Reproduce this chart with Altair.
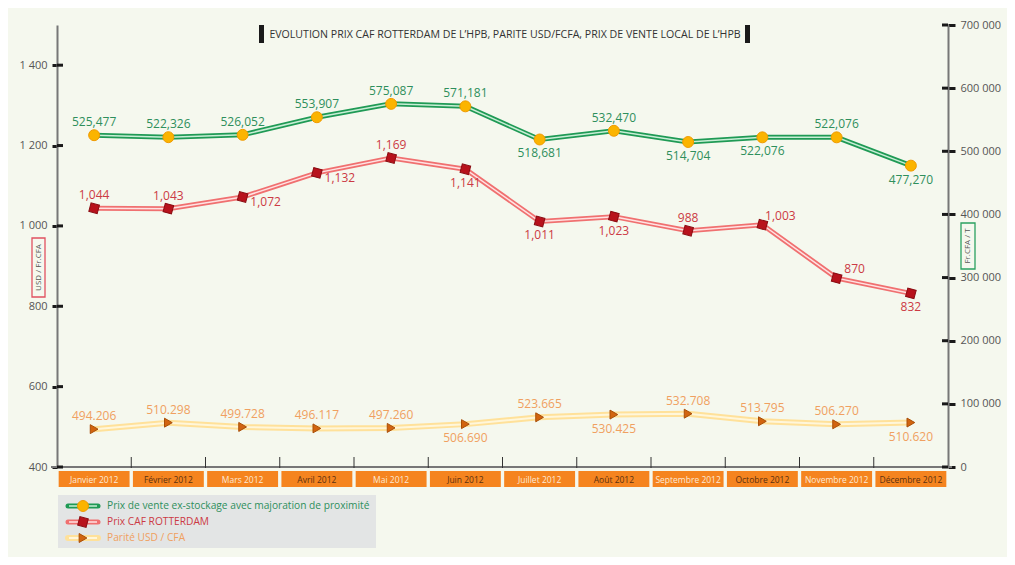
import altair as alt
import pandas as pd

# ---------------- data ----------------
months = ["Janvier 2012", "Février 2012", "Mars 2012", "Avril 2012", "Mai 2012", "Juin 2012",
          "Juillet 2012", "Août 2012", "Septembre 2012", "Octobre 2012", "Novembre 2012", "Décembre 2012"]
prix_vente = [525477, 522326, 526052, 553907, 575087, 571181, 518681, 532470, 514704, 522076, 522076, 477270]
prix_caf = [1044, 1043, 1072, 1132, 1169, 1141, 1011, 1023, 988, 1003, 870, 832]
parite = [494.206, 510.298, 499.728, 496.117, 497.260, 506.690, 523.665, 530.425, 532.708, 513.795, 506.270, 510.620]
left_ticks = [400, 600, 800, 1000, 1200, 1400]
right_ticks = [0, 100000, 200000, 300000, 400000, 500000, 600000, 700000]
series_names = ["Prix de vente ex-stockage avec majoration de proximité", "Prix CAF ROTTERDAM", "Parité USD / CFA"]
title_text = "EVOLUTION PRIX CAF ROTTERDAM DE L\u2019HPB, PARITE USD/FCFA, PRIX DE VENTE LOCAL DE L\u2019HPB"

# label placement (above / below / right side)
vente_side = ["above"] * 6 + ["below", "above", "below", "below", "above", "below"]
caf_side = ["above", "above", "rlow", "rlow", "above", "below", "below", "below", "above", "rhigh", "rhigh", "below"]
parite_side = ["above"] * 5 + ["below", "above", "below", "above", "above", "above", "below"]

df = pd.DataFrame({
    "month": months,
    "vente": prix_vente,
    "caf": prix_caf,
    "parite": parite,
    "vente_lbl": [f"{v:,}" for v in prix_vente],
    "caf_lbl": [f"{v:,}" for v in prix_caf],
    "parite_lbl": [f"{v:.3f}" for v in parite],
    "vente_side": vente_side,
    "caf_side": caf_side,
    "parite_side": parite_side,
})
left_df = pd.DataFrame({"t": left_ticks})
right_df = pd.DataFrame({"t": right_ticks})
one = pd.DataFrame({"a": [0]})

W, H = 891, 442
FONT = "Open Sans"
GREEN_T, RED_T, ORANGE_T = "#2e8f5c", "#cc3a44", "#f0a060"
offsets = {"above": (0, -13), "below": (0, 14), "rlow": (23, 5), "rhigh": (18, -9)}

X = alt.X("month:N", sort=months,
          scale=alt.Scale(type="band", domain=months, paddingInner=0, paddingOuter=0), axis=None)

left_scale = alt.Scale(domain=[400, 1500], nice=False, zero=False)
right_scale = alt.Scale(domain=[0, 700000], nice=False)

axis_common = dict(domainColor="#777777", domainWidth=2, tickColor="#1a1a1a", tickWidth=3,
                   labelFont=FONT, labelFontSize=11, labelColor="#555555", grid=False, title=None)
left_axis = alt.Axis(orient="left", values=left_ticks, tickSize=5, labelPadding=5,
                     labelExpr="datum.value >= 1000 ? floor(datum.value/1000) + ' ' + format(datum.value % 1000, '03d') : format(datum.value, 'd')",
                     **axis_common)
right_axis = alt.Axis(orient="right", values=right_ticks, tickSize=7, labelPadding=5,
                      labelExpr="datum.value == 0 ? '0' : format(datum.value/1000, 'd') + ' 000'",
                      **axis_common)

base = alt.Chart(df)


def series_layers(field, scale, outer, outer_w, inner, inner_w, shape, fill, stroke, size, angle, lbl, side, tcolor, axis):
    Y = alt.Y(f"{field}:Q", scale=scale, axis=axis)
    layers = [
        base.mark_line(color=outer, strokeWidth=outer_w).encode(x=X, y=Y),
        base.mark_line(color=inner, strokeWidth=inner_w).encode(x=X, y=Y),
        base.mark_point(shape=shape, filled=True, fill=fill, stroke=stroke, strokeWidth=1,
                        size=size, angle=angle, opacity=1).encode(x=X, y=Y),
    ]
    for s, (dx, dy) in offsets.items():
        layers.append(
            base.transform_filter(alt.datum[side] == s).mark_text(
                font=FONT, fontSize=12, color=tcolor, dx=dx, dy=dy, baseline="middle").encode(
                x=X, y=Y, text=f"{lbl}:N"))
    return layers


caf_layers = series_layers("caf", left_scale, "#f07070", 5, "#ffe2e2", 1.5, "square",
                           "#b8121c", "#8a0c12", 75, 15, "caf_lbl", "caf_side", RED_T, left_axis)
par_layers = series_layers("parite", left_scale, "#ffe19a", 6, "#fff6da", 2, "triangle-right",
                           "#d2640f", "#a84e08", 80, 0, "parite_lbl", "parite_side", ORANGE_T, left_axis)
vente_layers = series_layers("vente", right_scale, "#1f9a55", 5, "#c8eed6", 1.5, "circle",
                             "#fbb400", "#f09a00", 120, 0, "vente_lbl", "vente_side", GREEN_T, right_axis)

left_inner_ticks = alt.Chart(left_df).mark_rule(color="#1a1a1a", strokeWidth=3).encode(
    y=alt.Y("t:Q", scale=left_scale, axis=left_axis), x=alt.value(0), x2=alt.value(6))
right_inner_ticks = alt.Chart(right_df).mark_rule(color="#1a1a1a", strokeWidth=3).encode(
    y=alt.Y("t:Q", scale=right_scale, axis=right_axis), x=alt.value(W - 6), x2=alt.value(W))

left_group = alt.layer(*caf_layers, *par_layers, left_inner_ticks)
right_group = alt.layer(*vente_layers, right_inner_ticks)

# ---------------- decorations ----------------
deco = []
# x axis line
deco.append(alt.Chart(one).mark_rule(color="#777777", strokeWidth=2).encode(
    x=alt.value(-6), x2=alt.value(W + 4), y=alt.value(H)))
# band boundary ticks
deco.append(alt.Chart(pd.DataFrame({"month": months[1:]})).mark_rule(color="#333333", strokeWidth=1).encode(
    x=alt.X("month:N", sort=months, bandPosition=0,
            scale=alt.Scale(type="band", domain=months, paddingInner=0, paddingOuter=0), axis=None),
    y=alt.value(H - 10), y2=alt.value(H + 1)))
# month label boxes
deco.append(base.mark_bar(width=alt.RelativeBandSize(0.955), color="#f5841f").encode(
    x=X, y=alt.value(H + 4), y2=alt.value(H + 20)))
light_months = months[0::2]
deco.append(base.mark_text(font=FONT, fontSize=8.5, baseline="middle").encode(
    x=X, y=alt.value(H + 12.5), text="month:N",
    color=alt.condition(alt.FieldOneOfPredicate(field="month", oneOf=light_months),
                        alt.value("#fde9d6"), alt.value("#5a3010"))))
# title
deco.append(alt.Chart(one).mark_text(font=FONT, fontSize=10.6, color="#333333", baseline="middle").encode(
    x=alt.value(448), y=alt.value(9.5), text=alt.value(title_text)))
deco.append(alt.Chart(one).mark_rect(color="#1a1a1a").encode(
    x=alt.value(202), x2=alt.value(207), y=alt.value(0), y2=alt.value(18)))
deco.append(alt.Chart(one).mark_rect(color="#1a1a1a").encode(
    x=alt.value(688), x2=alt.value(693), y=alt.value(0), y2=alt.value(18)))
# axis titles in boxes
deco.append(alt.Chart(one).mark_rect(filled=False, stroke="#e05060", strokeWidth=1.3).encode(
    x=alt.value(-25), x2=alt.value(-12), y=alt.value(213), y2=alt.value(272)))
deco.append(alt.Chart(one).mark_text(font=FONT, fontSize=8, color="#555555", angle=270, baseline="middle").encode(
    x=alt.value(-18.5), y=alt.value(242.5), text=alt.value("USD / Fr.CFA")))
deco.append(alt.Chart(one).mark_rect(filled=False, stroke="#2aa060", strokeWidth=1.3).encode(
    x=alt.value(904), x2=alt.value(918), y=alt.value(198), y2=alt.value(244)))
deco.append(alt.Chart(one).mark_text(font=FONT, fontSize=8, color="#555555", angle=270, baseline="middle").encode(
    x=alt.value(911), y=alt.value(221), text=alt.value("Fr.CFA / T")))
# legend
deco.append(alt.Chart(one).mark_rect(color="#e3e5e5").encode(
    x=alt.value(1), x2=alt.value(319), y=alt.value(470), y2=alt.value(523)))
leg_styles = [
    ("#1f9a55", 5, "#c8eed6", 1.5, "circle", "#fbb400", "#f09a00", 120, 0, GREEN_T),
    ("#f07070", 5, "#ffe2e2", 1.5, "square", "#b8121c", "#8a0c12", 75, 15, RED_T),
    ("#ffe19a", 6, "#fff6da", 2, "triangle-right", "#d2640f", "#a84e08", 80, 0, ORANGE_T),
]
leg_y = [481, 497, 513]
for name, yy, (oc, ow, ic, iw, shp, fl, st, sz, ang, tc) in zip(series_names, leg_y, leg_styles):
    deco.append(alt.Chart(one).mark_rule(color=oc, strokeWidth=ow, strokeCap="round").encode(
        x=alt.value(11), x2=alt.value(41), y=alt.value(yy)))
    deco.append(alt.Chart(one).mark_rule(color=ic, strokeWidth=iw).encode(
        x=alt.value(12), x2=alt.value(40), y=alt.value(yy)))
    deco.append(alt.Chart(one).mark_point(shape=shp, filled=True, fill=fl, stroke=st, strokeWidth=1,
                                          size=sz, angle=ang, opacity=1).encode(
        x=alt.value(26), y=alt.value(yy)))
    deco.append(alt.Chart(one).mark_text(font=FONT, fontSize=10.2, color=tc, align="left", baseline="middle").encode(
        x=alt.value(50), y=alt.value(yy), text=alt.value(name)))

chart = alt.layer(
    alt.layer(*deco), left_group, right_group
).resolve_scale(y="independent").properties(
    width=W, height=H,
    padding={"left": 49, "top": 17, "right": 59, "bottom": 90},
    autosize=alt.AutoSizeParams(type="none"),
    background="#f5f8ee",
).configure_view(strokeWidth=0)

chart.save("out.html", embed_options={"renderer": "svg", "actions": False})
